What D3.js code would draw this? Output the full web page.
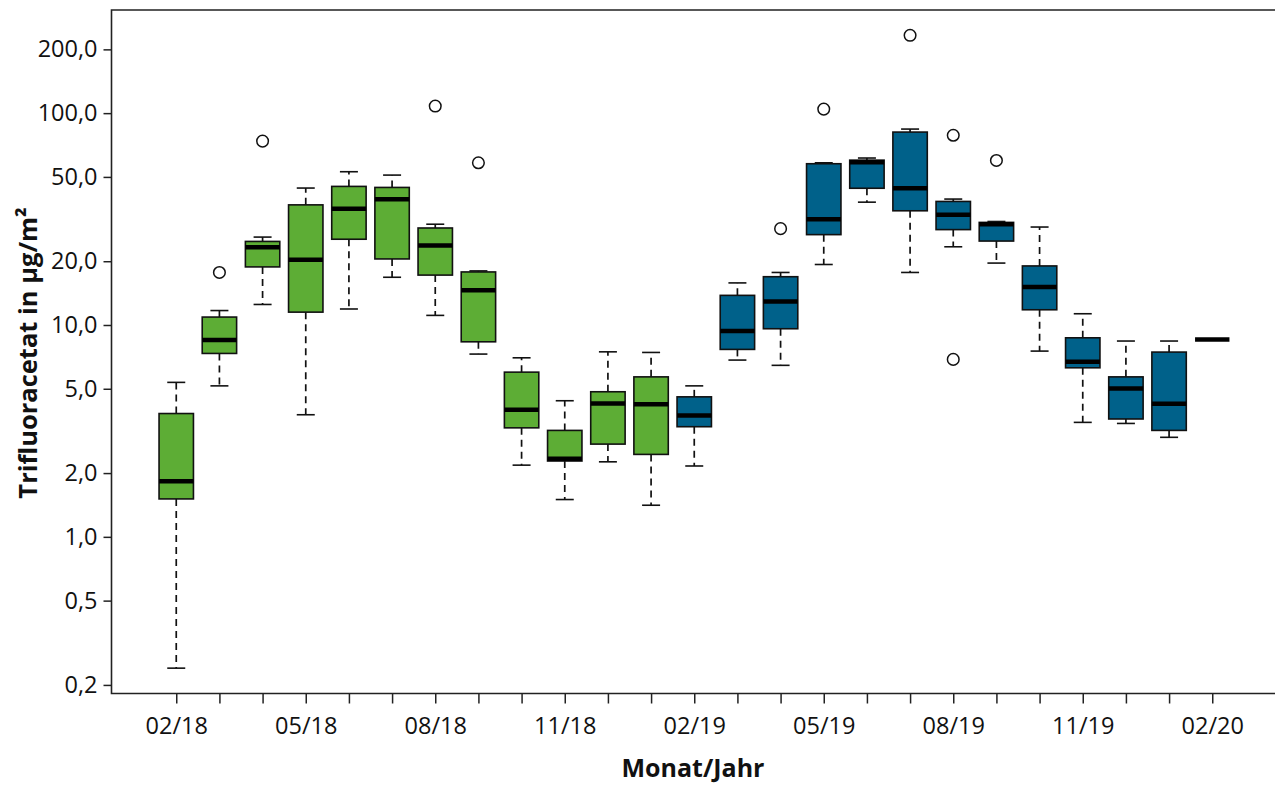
<!DOCTYPE html>
<html>
<head>
<meta charset="utf-8">
<script src="https://cdn.jsdelivr.net/npm/d3@7"></script>
<style>
  html, body { margin: 0; padding: 0; background: #fff; }
  svg { display: block; }
  text { font-family: "Open Sans", "Noto Sans", sans-serif; fill: #111; }
</style>
</head>
<body>
<svg id="chart" width="1275" height="789"></svg>
<script>
// Monthly TFA deposition (µg/m²), box plot statistics per month
const months = ["02/18","03/18","04/18","05/18","06/18","07/18","08/18","09/18","10/18","11/18","12/18","01/19",
                "02/19","03/19","04/19","05/19","06/19","07/19","08/19","09/19","10/19","11/19","12/19","01/20","02/20"];
const period = ["2018","2018","2018","2018","2018","2018","2018","2018","2018","2018","2018","2018",
                "2019","2019","2019","2019","2019","2019","2019","2019","2019","2019","2019","2019","2019"];
const whiskerLow  = [0.24, 5.16, 12.5, 3.77, 11.9, 16.8, 11.1, 7.29, 2.18, 1.50, 2.26, 1.41,
                     2.16, 6.83, 6.45, 19.3, 38.0, 17.7, 23.4, 19.6, 7.53, 3.47, 3.43, 2.95, 8.55];
const q1          = [1.51, 7.34, 18.8, 11.5, 25.4, 20.5, 17.2, 8.33, 3.27, 2.28, 2.74, 2.45,
                     3.31, 7.67, 9.6, 26.7, 44.2, 34.6, 28.2, 24.9, 11.8, 6.28, 3.60, 3.18, 8.55];
const median      = [1.83, 8.49, 23.3, 20.3, 35.4, 39.2, 23.7, 14.6, 3.98, 2.34, 4.26, 4.22,
                     3.74, 9.36, 12.9, 31.6, 58.6, 44.2, 33.1, 29.9, 15.1, 6.70, 5.02, 4.25, 8.55];
const q3          = [3.82, 10.9, 24.8, 36.9, 45.1, 44.6, 28.7, 17.8, 5.99, 3.18, 4.84, 5.69,
                     4.58, 13.8, 16.9, 57.7, 60.0, 81.4, 38.3, 30.5, 19.0, 8.7, 5.69, 7.45, 8.55];
const whiskerHigh = [5.36, 11.7, 26.0, 44.3, 52.9, 51.0, 29.9, 18.0, 7.0, 4.39, 7.47, 7.42,
                     5.16, 15.8, 17.7, 58.3, 61.4, 84.1, 39.3, 30.8, 29.0, 11.3, 8.4, 8.4, 8.55];
const outlierMonth = ["03/18","04/18","08/18","09/18","04/19","05/19","07/19","08/19","08/19","09/19"];
const outlierValue = [17.7, 73.8, 108, 58.3, 28.5, 104.5, 233, 78.6, 6.88, 59.8];

const yTicks = [0.2, 0.5, 1, 2, 5, 10, 20, 50, 100, 200];
const xTickLabels = ["02/18","05/18","08/18","11/18","02/19","05/19","08/19","11/19","02/20"];
const periodColor = { "2018": "#5DAD35", "2019": "#00618A" };

const svg = d3.select("#chart");
const plotLeft = 111.5, plotTop = 10, plotBottom = 693.5, plotRight = 1277;

// months sit at 1..n, with 1.5 units of margin on either side
const x = d3.scaleLinear().domain([-0.5, months.length + 1.5]).range([plotLeft, plotRight]);
const y = d3.scaleLog().domain([0.1822, 306.8]).range([plotBottom, plotTop]);
const xi = m => x(months.indexOf(m) + 1);

const boxW = 34.4, capW = 18;

// frame: left, top and bottom lines
svg.append("path")
  .attr("d", `M${plotRight},${plotTop}H${plotLeft}V${plotBottom}H${plotRight}`)
  .attr("fill", "none").attr("stroke", "#222").attr("stroke-width", 1.6);

// y axis
const yAxis = d3.axisLeft(y).tickValues(yTicks)
  .tickFormat(d => d3.format(".1f")(d).replace(".", ","))
  .tickSize(8).tickPadding(6);
const gy = svg.append("g").attr("transform", `translate(${plotLeft},0)`).call(yAxis);
gy.select(".domain").remove();
gy.selectAll(".tick line").attr("stroke", "#222").attr("stroke-width", 1.5);
gy.selectAll(".tick text").style("font-size", "23.5px").attr("fill", "#111");

// x axis: one tick per month, a label every third month
const xAxis = d3.axisBottom(x).tickValues(d3.range(1, months.length + 1))
  .tickFormat(i => xTickLabels.includes(months[i - 1]) ? months[i - 1] : "")
  .tickSize(10).tickPadding(14);
const gx = svg.append("g").attr("transform", `translate(0,${plotBottom})`).call(xAxis);
gx.select(".domain").remove();
gx.selectAll(".tick line").attr("stroke", "#222").attr("stroke-width", 1.5);
gx.selectAll(".tick text").style("font-size", "23.5px").attr("fill", "#111");

// axis titles
svg.append("text")
  .attr("x", 693).attr("y", 777).attr("text-anchor", "middle")
  .style("font-size", "25px").style("font-weight", "bold")
  .text("Monat/Jahr");
svg.append("text")
  .attr("transform", "translate(37,353) rotate(-90)").attr("text-anchor", "middle")
  .style("font-size", "25.5px").style("font-weight", "bold")
  .text("Trifluoracetat in µg/m²");

// boxes
const data = months.map((m, i) => ({
  m, p: period[i], lo: whiskerLow[i], q1: q1[i], med: median[i], q3: q3[i], hi: whiskerHigh[i]
}));
const g = svg.append("g");
const box = g.selectAll("g.box").data(data).join("g").attr("class", "box")
  .attr("transform", d => `translate(${xi(d.m)},0)`);

// whiskers (dashed) and caps
box.append("line")
  .attr("x1", 0).attr("x2", 0).attr("y1", d => y(d.q3)).attr("y2", d => y(d.hi))
  .attr("stroke", "#111").attr("stroke-width", 1.7).attr("stroke-dasharray", "7,5");
box.append("line")
  .attr("x1", 0).attr("x2", 0).attr("y1", d => y(d.q1)).attr("y2", d => y(d.lo))
  .attr("stroke", "#111").attr("stroke-width", 1.7).attr("stroke-dasharray", "7,5");
box.filter(d => d.hi > d.q3).append("line")
  .attr("x1", -capW / 2).attr("x2", capW / 2).attr("y1", d => y(d.hi)).attr("y2", d => y(d.hi))
  .attr("stroke", "#111").attr("stroke-width", 1.6);
box.filter(d => d.lo < d.q1).append("line")
  .attr("x1", -capW / 2).attr("x2", capW / 2).attr("y1", d => y(d.lo)).attr("y2", d => y(d.lo))
  .attr("stroke", "#111").attr("stroke-width", 1.6);

box.filter(d => d.q3 > d.q1).append("rect")
  .attr("x", -boxW / 2).attr("width", boxW)
  .attr("y", d => y(d.q3)).attr("height", d => y(d.q1) - y(d.q3))
  .attr("fill", d => periodColor[d.p]).attr("stroke", "#111").attr("stroke-width", 1.6);

box.append("line")
  .attr("x1", -boxW / 2).attr("x2", boxW / 2)
  .attr("y1", d => y(d.med)).attr("y2", d => y(d.med))
  .attr("stroke", "#000").attr("stroke-width", 4.5);

// outliers
g.selectAll("circle.out").data(outlierMonth.map((m, i) => ({ m, v: outlierValue[i] })))
  .join("circle").attr("class", "out")
  .attr("cx", d => xi(d.m)).attr("cy", d => y(d.v)).attr("r", 5.8)
  .attr("fill", "none").attr("stroke", "#111").attr("stroke-width", 1.5);
</script>
</body>
</html>
